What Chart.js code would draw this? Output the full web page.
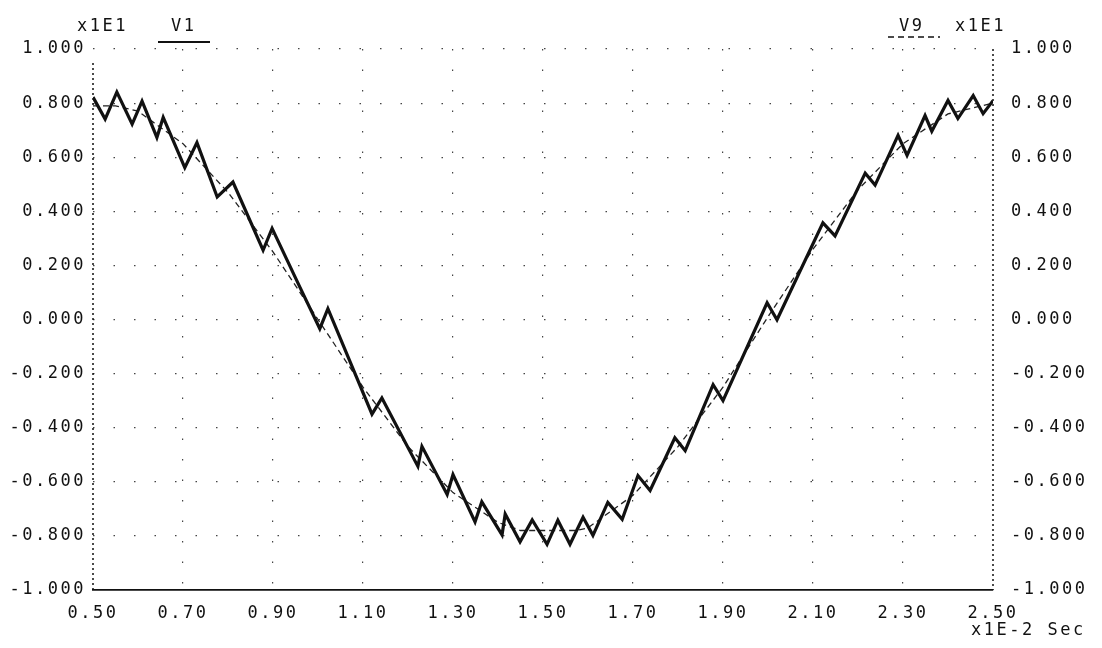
<!DOCTYPE html>
<html>
<head>
<meta charset="utf-8">
<script src="https://cdn.jsdelivr.net/npm/chart.js@4.4.0/dist/chart.umd.min.js"></script>
<style>
html, body { margin: 0; padding: 0; background: #fff; }
#wrap { position: relative; width: 1102px; height: 648px; }
</style>
</head>
<body>
<div id="wrap"><canvas id="chart" width="1102" height="648"></canvas></div>
<script>
// time in x1E-2 Sec, values in x1E1
const v1Time = [0.500, 0.527, 0.553, 0.587, 0.609, 0.642, 0.656, 0.704, 0.731, 0.776,
                0.811, 0.878, 0.898, 0.960, 1.004, 1.022, 1.120, 1.142, 1.222, 1.231,
                1.287, 1.300, 1.349, 1.364, 1.409, 1.416, 1.449, 1.476, 1.509, 1.533,
                1.560, 1.589, 1.611, 1.644, 1.676, 1.711, 1.738, 1.793, 1.816, 1.878,
                1.900, 1.998, 2.020, 2.122, 2.149, 2.216, 2.238, 2.289, 2.309, 2.349,
                2.364, 2.400, 2.422, 2.456, 2.478, 2.500];
const v1Volt = [0.822, 0.741, 0.841, 0.722, 0.807, 0.673, 0.747, 0.561, 0.654, 0.453,
                0.508, 0.256, 0.337, 0.119, -0.034, 0.040, -0.350, -0.290, -0.543, -0.469,
                -0.647, -0.573, -0.748, -0.674, -0.796, -0.719, -0.822, -0.741, -0.831, -0.742,
                -0.831, -0.731, -0.798, -0.676, -0.739, -0.577, -0.632, -0.437, -0.485, -0.241,
                -0.300, 0.062, -0.001, 0.357, 0.309, 0.541, 0.497, 0.681, 0.607, 0.754,
                0.696, 0.810, 0.743, 0.828, 0.761, 0.809];

const v9Time = [0.50, 0.55, 0.60, 0.70, 0.80, 0.90, 1.00, 1.10, 1.20, 1.30, 1.40, 1.45,
                1.575, 1.60, 1.70, 1.80, 1.90, 2.00, 2.10, 2.20, 2.30, 2.40, 2.50];
const v9Volt = [0.79, 0.79, 0.77, 0.65, 0.47, 0.25, 0.00, -0.25, -0.47, -0.64, -0.75, -0.78,
                -0.78, -0.77, -0.65, -0.47, -0.25, 0.01, 0.26, 0.48, 0.65, 0.76, 0.80];

const xTicks = [0.5, 0.7, 0.9, 1.1, 1.3, 1.5, 1.7, 1.9, 2.1, 2.3, 2.5];
const yTicks = [-1.0, -0.8, -0.6, -0.4, -0.2, 0.0, 0.2, 0.4, 0.6, 0.8, 1.0];

const seriesNames = ['V1', 'V9'];
const yUnit = 'x1E1';
const xUnit = 'x1E-2 Sec';

const ink = '#111';
const spacing = '2.5px';
const fontMono = { family: '"DejaVu Sans Mono", monospace', size: 17 };

function setSpacing(chart) {
    chart.ctx.letterSpacing = spacing;
}

const plotterText = {
    id: 'plotterText',
    beforeUpdate: setSpacing,
    beforeDraw: setSpacing,
    beforeDatasetsDraw(chart) {
        // dotted left and right frame lines
        const ctx = chart.ctx;
        const a = chart.chartArea;
        ctx.save();
        ctx.strokeStyle = ink;
        ctx.lineWidth = 1.5;
        ctx.setLineDash([2, 3]);
        ctx.beginPath();
        ctx.moveTo(a.left, a.top + 14);
        ctx.lineTo(a.left, a.bottom);
        ctx.moveTo(a.right, a.top);
        ctx.lineTo(a.right, a.bottom);
        ctx.stroke();
        ctx.restore();
    },
    afterDraw(chart) {
        const ctx = chart.ctx;
        ctx.save();
        ctx.letterSpacing = spacing;
        ctx.fillStyle = ink;
        ctx.font = '17px "DejaVu Sans Mono", monospace';
        ctx.textBaseline = 'middle';
        ctx.textAlign = 'left';
        ctx.fillText(yUnit, 77, 27);
        ctx.fillText(seriesNames[0], 171, 27);
        ctx.fillText(seriesNames[1], 899, 27);
        ctx.fillText(yUnit, 955, 27);
        ctx.fillText(xUnit, 971, 631);

        ctx.strokeStyle = ink;
        ctx.lineWidth = 2;
        ctx.beginPath();
        ctx.moveTo(158, 42);
        ctx.lineTo(210, 42);
        ctx.stroke();
        ctx.setLineDash([6, 4]);
        ctx.lineWidth = 1.5;
        ctx.beginPath();
        ctx.moveTo(888, 37);
        ctx.lineTo(940, 37);
        ctx.stroke();
        ctx.restore();
    }
};

const ctx = document.getElementById('chart').getContext('2d');
const myChart = new Chart(ctx, {
    type: 'line',
    data: {
        datasets: [{
            label: seriesNames[0],
            data: v1Time.map((t, i) => ({ x: t, y: v1Volt[i] })),
            borderColor: ink,
            borderWidth: 3.2,
            pointRadius: 0,
            tension: 0
        }, {
            label: seriesNames[1],
            data: v9Time.map((t, i) => ({ x: t, y: v9Volt[i] })),
            borderColor: '#222',
            borderWidth: 1.3,
            borderDash: [6, 4],
            pointRadius: 0,
            tension: 0
        }]
    },
    options: {
        responsive: false,
        animation: false,
        layout: { padding: { top: 49, left: 0, right: 0, bottom: 0 } },
        plugins: { legend: { display: false }, tooltip: { enabled: false } },
        scales: {
            x: {
                type: 'linear',
                min: 0.5,
                max: 2.5,
                afterBuildTicks: (s) => { s.ticks = xTicks.map(v => ({ value: v })); },
                afterFit: (s) => { s.height = 58; },
                ticks: {
                    color: ink,
                    font: fontMono,
                    padding: 13,
                    maxRotation: 0,
                    autoSkip: false,
                    callback: (v) => Number(v).toFixed(2)
                },
                grid: {
                    color: (c) => (c.index === 0 || c.index === xTicks.length - 1) ? 'rgba(0,0,0,0)' : '#444',
                    lineWidth: 1.2,
                    drawTicks: false
                },
                border: { display: true, color: ink, width: 1.8, dash: [1.5, 19] }
            },
            y: {
                min: -1,
                max: 1,
                position: 'left',
                afterBuildTicks: (s) => { s.ticks = yTicks.map(v => ({ value: v })); },
                afterFit: (s) => { s.width = 93; },
                ticks: {
                    color: ink,
                    font: fontMono,
                    padding: 7,
                    autoSkip: false,
                    callback: (v) => Number(v).toFixed(3)
                },
                grid: {
                    color: (c) => c.index === 0 ? 'rgba(0,0,0,0)' : '#444',
                    lineWidth: 1.2,
                    drawTicks: false
                },
                border: { display: false, dash: [1.5, 19] }
            },
            y2: {
                min: -1,
                max: 1,
                position: 'right',
                afterBuildTicks: (s) => { s.ticks = yTicks.map(v => ({ value: v })); },
                afterFit: (s) => { s.width = 109; },
                ticks: {
                    color: ink,
                    font: fontMono,
                    padding: 10,
                    autoSkip: false,
                    callback: (v) => Number(v).toFixed(3)
                },
                grid: { display: false },
                border: { display: false }
            }
        }
    },
    plugins: [plotterText]
});
</script>
</body>
</html>
